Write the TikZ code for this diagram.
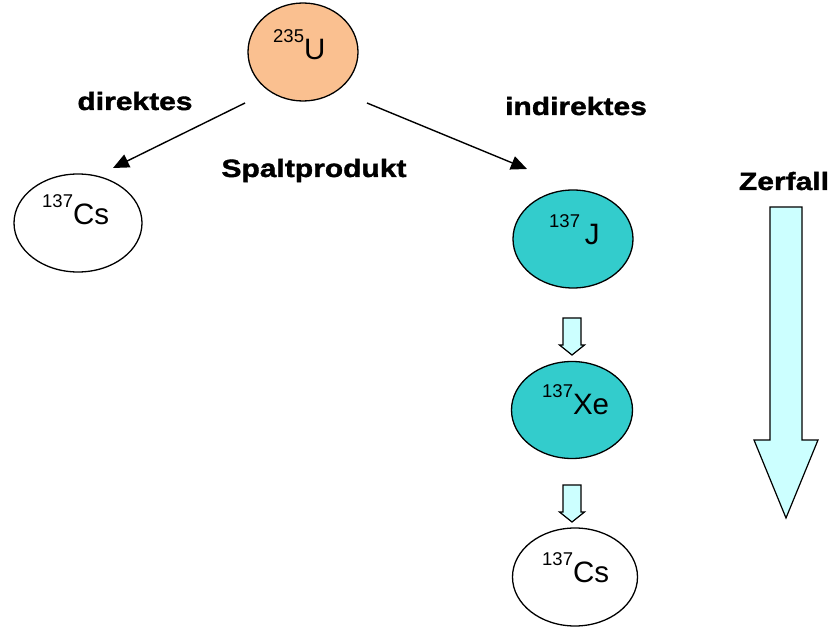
\documentclass[tikz,border=0pt]{standalone}
\usepackage{fontspec}
\setmainfont{Liberation Sans}
\newfontfamily\lblfont{Liberation Sans}[FakeStretch=1.2,FakeBold=1.5]
\usetikzlibrary{arrows.meta,shapes.geometric}
\definecolor{uorange}{HTML}{FAC090}
\definecolor{nteal}{HTML}{33CCCC}
\definecolor{acyan}{HTML}{CCFFFF}
\newcommand{\iso}[2]{\raisebox{17pt}{\fontsize{18.5}{18}\selectfont #1}{\fontsize{29.5}{30}\selectfont #2}}
\begin{document}
\begin{tikzpicture}[x=1pt,y=-1pt,
  nuc/.style={ellipse,draw=black,line width=1.3pt,inner sep=0pt},
  iso/.style={inner sep=0pt,anchor=base west},
  lbl/.style={inner sep=0pt,anchor=base,font=\lblfont\bfseries\fontsize{25}{30}\selectfont},
  path/.style={line width=1.4pt,-{Triangle[length=16pt,width=14pt]}},
  hollow/.style={draw=black,line width=1.2pt,fill=acyan,line join=miter}]
\useasboundingbox (0,0) rectangle (833,628);

% nuclide ellipses
\node[nuc,fill=uorange,minimum width=110pt,minimum height=98pt] (u235) at (303,52) {};
\node[nuc,fill=white,minimum width=128pt,minimum height=98pt] (csdir) at (78,223) {};
\node[nuc,fill=nteal,minimum width=120pt,minimum height=98pt] (j137) at (573,239) {};
\node[nuc,fill=nteal,minimum width=121pt,minimum height=97pt] (xe137) at (572,410) {};
\node[nuc,fill=white,minimum width=125pt,minimum height=98pt] (csind) at (575,577) {};

% nuclide symbols
\node[iso] (tu) at (273,60) {\iso{235}{U}};
\node[iso] (tcsdir) at (42,225) {\iso{137}{Cs}};
\node[iso] (tj) at (549,245) {\iso{137}{\,J}};
\node[iso] (txe) at (542,414) {\iso{137}{Xe}};
\node[iso] (tcsind) at (542,582) {\iso{137}{Cs}};

% labels
\node[lbl] (ldir) at (135,110) {direktes};
\node[lbl] (lspalt) at (314,177) {Spaltprodukt};
\node[lbl] (lind) at (576,115) {indirektes};
\node[lbl] (lzerf) at (784,190) {Zerfall};

% fission branches
\coordinate (dstart) at (245,103);
\coordinate (dend) at (113,168);
\coordinate (istart) at (367,103);
\coordinate (iend) at (527,169);
\draw[path] (dstart) -- (dend);
\draw[path] (istart) -- (iend);

% small decay arrows
\draw[hollow] (563,318) -- (581,318) -- (581,345) -- (584.5,345) -- (572,355)
  -- (559.5,345) -- (563,345) -- cycle;
\draw[hollow] (563,485) -- (581,485) -- (581,512) -- (584.5,512) -- (572,522)
  -- (559.5,512) -- (563,512) -- cycle;

% large decay arrow
\draw[hollow] (770,207) -- (802,207) -- (802,440) -- (818,440) -- (786,518)
  -- (754,440) -- (770,440) -- cycle;
\end{tikzpicture}
\end{document}
